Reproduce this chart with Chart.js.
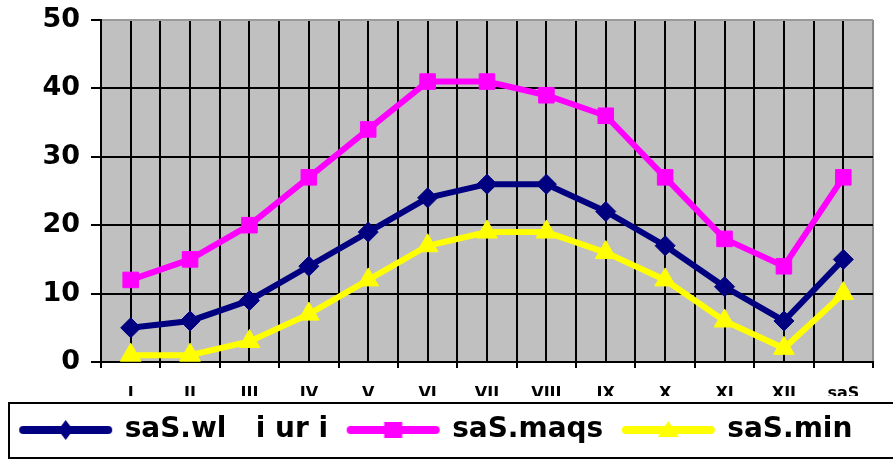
<!DOCTYPE html>
<html><head><meta charset="utf-8">
<script src="https://cdn.jsdelivr.net/npm/chart.js@4.4.1/dist/chart.umd.min.js"></script>
<style>html,body{margin:0;padding:0;background:#fff;overflow:hidden}#wrap{width:893px;height:460px}</style>
</head><body><div id="wrap"><canvas id="c" width="893" height="460"></canvas></div>
<script>
const categories = ['I','II','III','IV','V','VI','VII','VIII','IX','X','XI','XII','saS'];
const seriesNames = ['saS.wl   i ur i', 'saS.maqs', 'saS.min'];
const avgValues = [5, 6, 9, 14, 19, 24, 26, 26, 22, 17, 11, 6, 15];
const maxValues = [12, 15, 20, 27, 34, 41, 41, 39, 36, 27, 18, 14, 27];
const minValues = [1, 1, 3, 7, 12, 17, 19, 19, 16, 12, 6, 2, 10];
const yTickValues = [0, 10, 20, 30, 40, 50];

const colors = ['#000080', '#FF00FF', '#FFFF00'];
const styles = ['rectRot', 'rect', 'triangle'];
const radii = [10, 11, 12];

function pts(vals) { return vals.map((v, i) => ({x: i, y: v})); }

function legendImage(color, style) {
  const c = document.createElement('canvas');
  c.width = 95; c.height = 24;
  const g = c.getContext('2d');
  g.strokeStyle = color; g.lineWidth = 8; g.lineCap = 'round';
  g.beginPath(); g.moveTo(5, 12); g.lineTo(90, 12); g.stroke();
  g.fillStyle = color;
  g.beginPath();
  if (style === 'rectRot') { g.moveTo(47.5, 2); g.lineTo(55, 12); g.lineTo(47.5, 22); g.lineTo(40, 12); g.closePath(); }
  else if (style === 'rect') { g.rect(38.5, 4, 18, 16); }
  else { g.moveTo(47.5, 3); g.lineTo(58, 19); g.lineTo(37, 19); g.closePath(); }
  g.fill();
  return c;
}
const legendImgs = colors.map((c, i) => legendImage(c, styles[i]));

const bgPlugin = {
  id: 'bg',
  beforeDraw(chart) {
    const {ctx, chartArea: a} = chart;
    ctx.save();
    ctx.fillStyle = '#C0C0C0';
    ctx.fillRect(a.left, a.top, a.right - a.left, a.bottom - a.top);
    ctx.restore();
  },
  afterDraw(chart) {
    const {ctx} = chart;
    const l = chart.legend;
    ctx.save();
    ctx.strokeStyle = '#000';
    ctx.lineWidth = 2;
    ctx.strokeRect(9, l.top + 7, chart.width + 20, l.bottom - l.top - 3);
    ctx.restore();
  }
};

const datasets = [avgValues, maxValues, minValues].map((vals, i) => ({
  label: seriesNames[i],
  data: pts(vals),
  borderColor: colors[i],
  backgroundColor: colors[i],
  borderWidth: 6,
  pointStyle: styles[i],
  pointRadius: radii[i],
  pointBackgroundColor: colors[i],
  pointBorderColor: colors[i],
  pointBorderWidth: 1,
  tension: 0,
  fill: false
}));

new Chart(document.getElementById('c'), {
  type: 'line',
  data: { datasets },
  options: {
    responsive: false,
    animation: false,
    layout: { padding: { top: 20, right: 20, bottom: 6, left: 0 } },
    plugins: {
      tooltip: { enabled: false },
      legend: {
        position: 'bottom',
        labels: {
          usePointStyle: true,
          pointStyleWidth: 90,
          padding: 20,
          color: '#000',
          font: { family: 'DejaVu Sans', weight: 'bold', size: 28 },
          generateLabels(chart) {
            const items = Chart.defaults.plugins.legend.labels.generateLabels(chart);
            items.forEach((it, i) => { it.pointStyle = legendImgs[i]; it.rotation = 0; });
            return items;
          }
        }
      }
    },
    scales: {
      x: {
        type: 'linear',
        min: -0.5,
        max: 12.5,
        afterFit(s) { s.height = 34; s.paddingLeft = 0; s.paddingRight = 0; },
        ticks: {
          stepSize: 0.5,
          autoSkip: false,
          maxRotation: 0,
          padding: 16,
          color: '#000',
          font: { family: 'DejaVu Sans', weight: 'bold', size: 16 },
          callback(v) { return Number.isInteger(v) ? categories[v] : ''; }
        },
        grid: {
          color(ctx) { return ctx.tick && ctx.tick.value === 12.5 ? '#8c8c8c' : '#000'; },
          lineWidth: 2,
          tickLength: 6,
          tickColor(ctx) { return ctx.tick && Number.isInteger(ctx.tick.value) ? 'rgba(0,0,0,0)' : '#000'; }
        },
        border: { color: '#000', width: 2 }
      },
      y: {
        min: 0,
        max: 50,
        afterFit(s) { s.width = 101; s.paddingTop = 0; s.paddingBottom = 0; },
        afterBuildTicks(s) { s.ticks = yTickValues.map(v => ({value: v})); },
        ticks: {
          padding: 11,
          color: '#000',
          font: { family: 'DejaVu Sans', weight: 'bold', size: 27 }
        },
        grid: {
          color(ctx) { return ctx.tick && ctx.tick.value === 50 ? '#9a9a9a' : '#000'; },
          lineWidth: 2,
          tickLength: 10,
          tickColor: '#000'
        },
        border: { color: '#000', width: 2 }
      }
    }
  },
  plugins: [bgPlugin]
});
</script>
</body></html>
